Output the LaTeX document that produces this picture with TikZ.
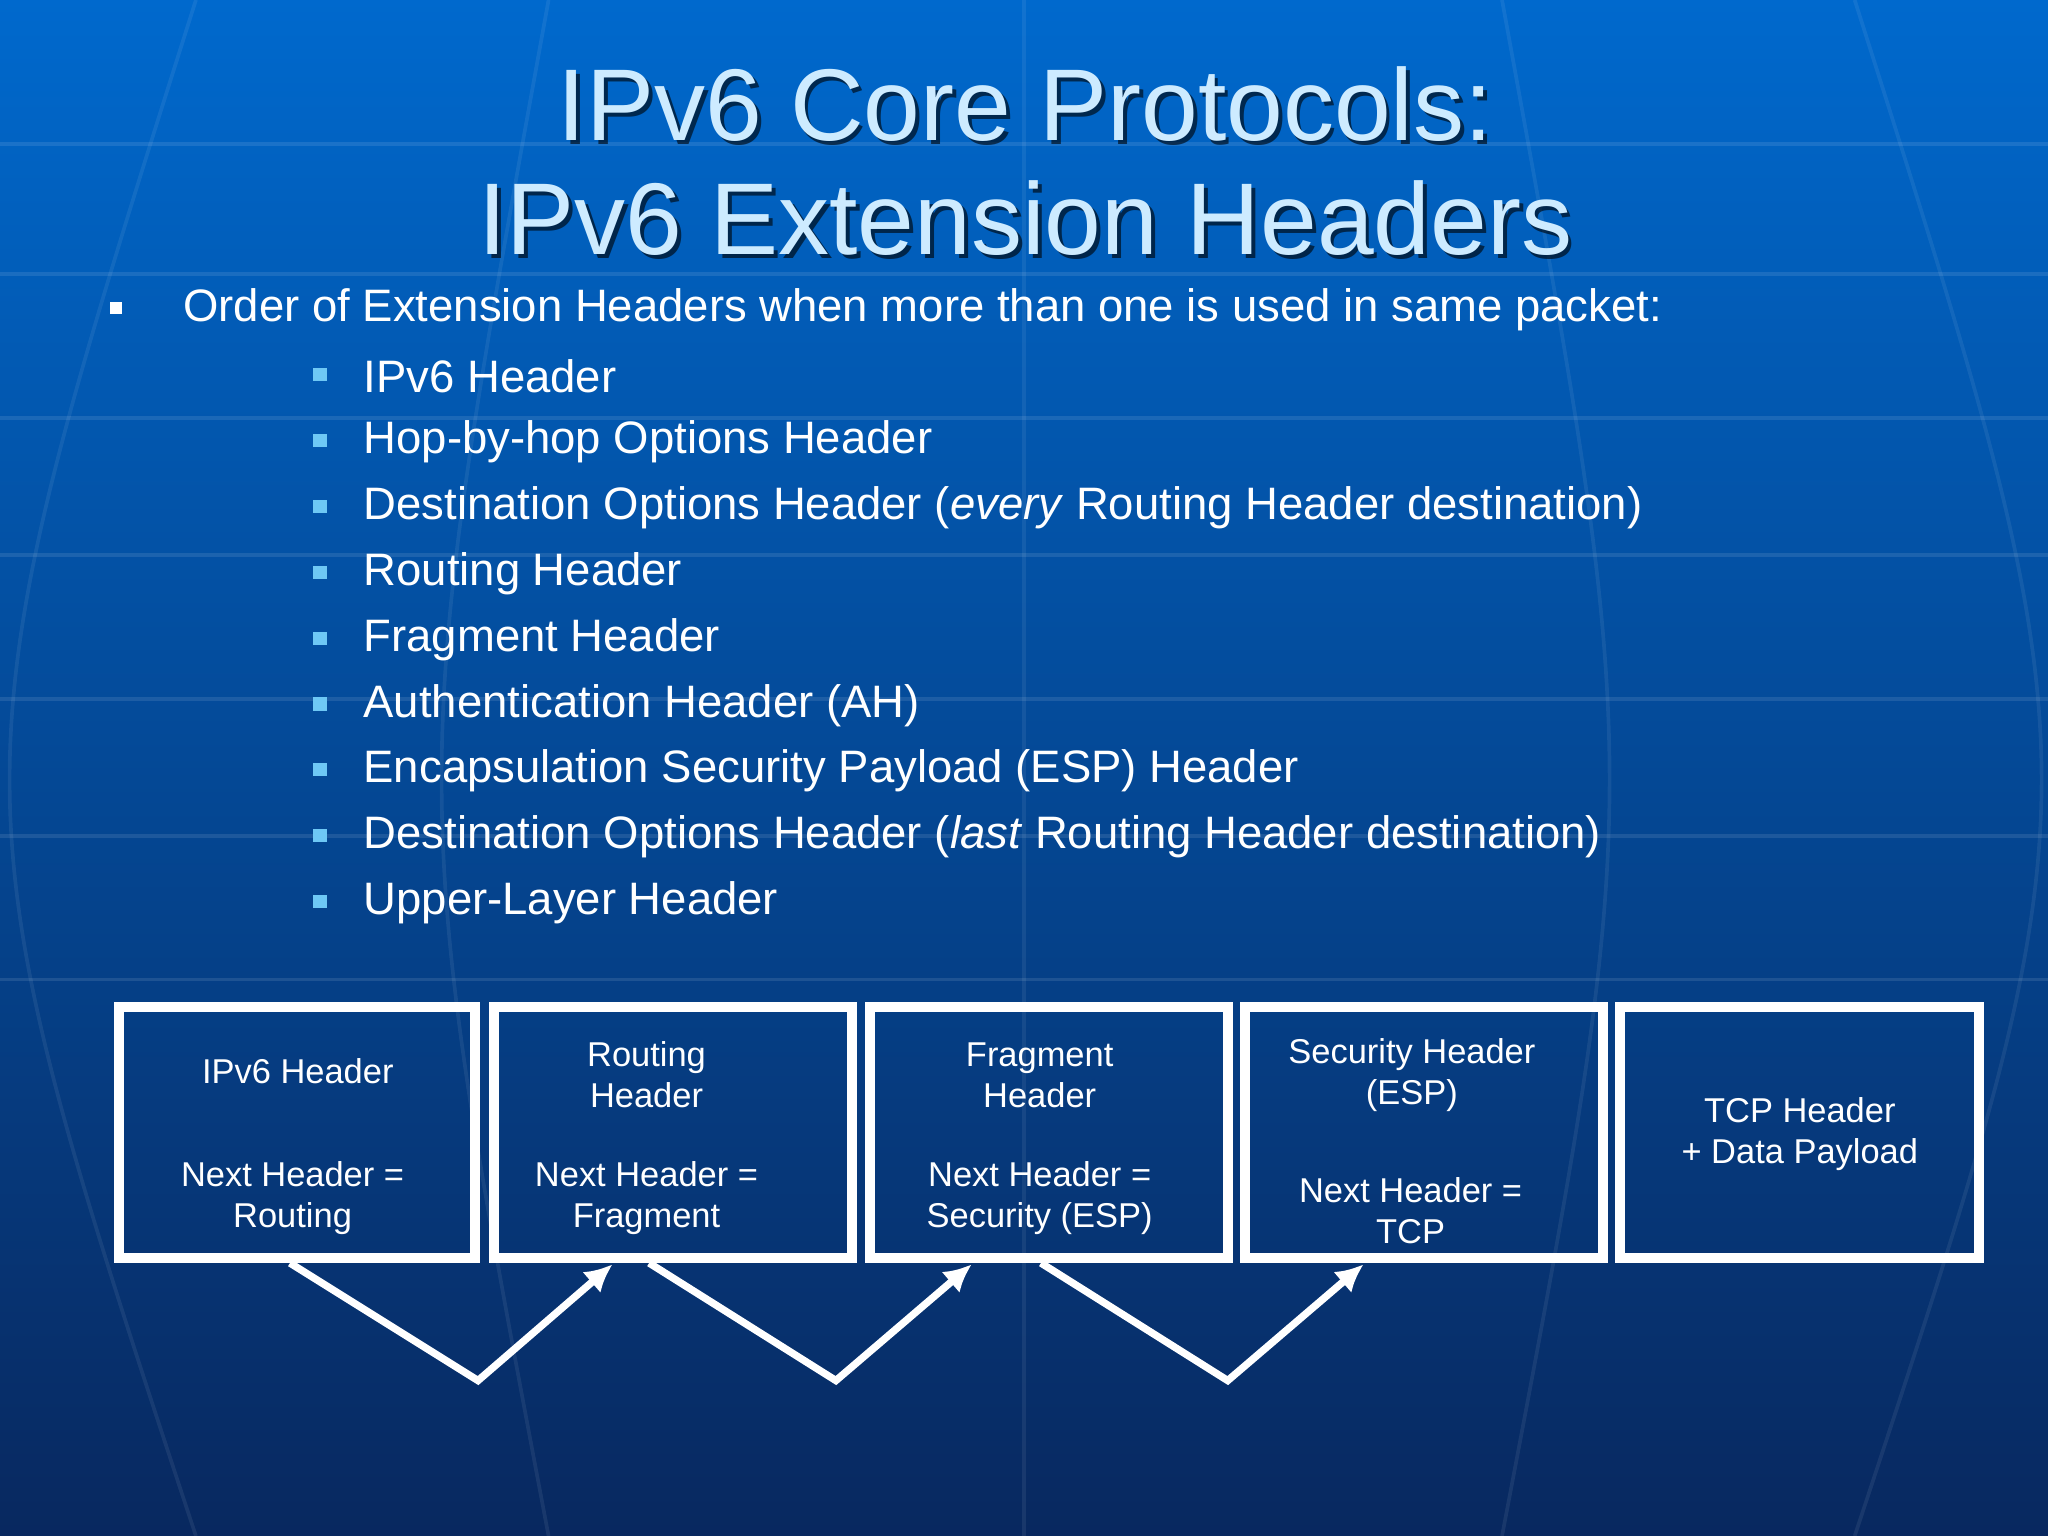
\documentclass[tikz,border=0pt]{standalone}
\usepackage{fontspec}
\setmainfont{Liberation Sans}
\definecolor{titlec}{RGB}{205,235,255}
\definecolor{bulc}{RGB}{110,200,245}
\definecolor{bgtop}{RGB}{0,105,205}
\definecolor{bgbot}{RGB}{8,40,95}
\tikzset{
  hbox/.style={draw=white,line width=2.2pt},
  btxt/.style={text=white,font=\fontsize{7.5pt}{8.9pt}\selectfont,align=center},
  ltxt/.style={text=white,anchor=west,font=\fontsize{9.9pt}{11pt}\selectfont},
  sq/.style={fill=bulc,minimum size=0.1cm,inner sep=0pt},
  arr/.style={draw=white,line width=1.6pt,-{Latex[length=6pt,width=6pt]}},
}
\usetikzlibrary{arrows.meta}
\begin{document}
\begin{tikzpicture}[x=0.01cm,y=-0.01cm]
\useasboundingbox (0,0) rectangle (1568,1176);
\shade[top color=bgtop,bottom color=bgbot] (0,0) rectangle (1568,1176);
% faint globe lines
\foreach \y in {110,210,320,425,535,640,750}
  \draw[white,opacity=0.10,line width=0.8pt] (0,\y) -- (1568,\y);
\foreach \x in {150,420,784,1150,1420}
  \draw[white,opacity=0.07,line width=0.8pt] (\x,0) .. controls ({784+(\x-784)*1.3},600) .. (\x,1176);
% title
\foreach \l/\yy/\t in {a/80/{IPv6 Core Protocols:},b/167/{IPv6 Extension Headers}}{
  \node[text=black,opacity=0.6,font=\fontsize{22.2pt}{26pt}\selectfont] at (788,\yy+3) {\t};
  \node (title\l) [text=titlec,font=\fontsize{22.2pt}{26pt}\selectfont] at (785,\yy) {\t};
}
% main bullet
\node (b0) [fill=white,minimum size=0.09cm,inner sep=0pt] at (89,236) {};
\node (t0) [ltxt] at (128,237) {Order of Extension Headers when more than one is used in same packet:};
\foreach \i/\t in {0/{IPv6 Header},1/{Hop-by-hop Options Header},2/{Destination Options Header (\textit{every} Routing Header destination)},3/{Routing Header},4/{Fragment Header},5/{Authentication Header (AH)},6/{Encapsulation Security Payload (ESP) Header},7/{Destination Options Header (\textit{last} Routing Header destination)},8/{Upper-Layer Header}}{
  \node (s\i) [sq] at (245,{287+50.4*\i}) {};
  \node (l\i) [ltxt] at (266,{288+50.4*\i}) {\t};
}
% boxes
\foreach \n/\xa/\xb in {b1/91/364,b2/378/652,b3/666/940,b4/953/1227,b5/1240/1515}
  \draw[hbox] (\xa,771) rectangle (\xb,963) node[pos=0.5] (\n) {};
\node (t1a) [btxt] at (228,820) {IPv6 Header};
\node (t1b) [btxt] at (224,917) {Next Header =\\Routing};
\node (t2a) [btxt] at (495,823) {Routing\\Header};
\node (t2b) [btxt] at (495,917) {Next Header =\\Fragment};
\node (t3a) [btxt] at (796,823) {Fragment\\Header};
\node (t3b) [btxt] at (796,917) {Next Header =\\Security (ESP)};
\node (t4a) [btxt] at (1081,823) {Security Header\\(ESP)};
\node (t4b) [btxt] at (1080,927) {Next Header =\\TCP};
\node (t5) [btxt] at (1378,868) {TCP Header\\+ Data Payload};
% arrows
\coordinate (p1) at (222,967); \coordinate (v1) at (366,1057); \coordinate (q1) at (469,968);
\coordinate (p2) at (497,967); \coordinate (v2) at (640,1057); \coordinate (q2) at (744,968);
\coordinate (p3) at (797,967); \coordinate (v3) at (940,1057); \coordinate (q3) at (1044,968);
\foreach \k in {1,2,3} \draw[arr] (p\k) -- (v\k) -- (q\k);
\end{tikzpicture}
\end{document}
